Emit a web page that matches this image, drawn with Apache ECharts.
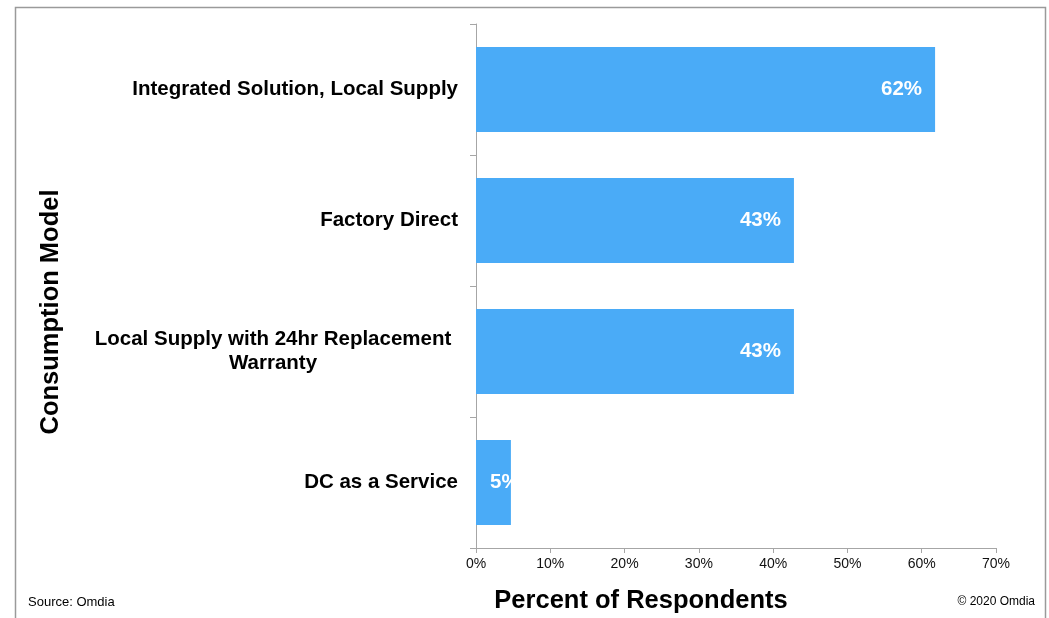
<!DOCTYPE html>
<html>
<head>
<meta charset="utf-8">
<script src="https://cdn.jsdelivr.net/npm/echarts@6/dist/echarts.min.js"></script>
<style>
    html, body { margin: 0; padding: 0; background: #fff; }
    #chart { width: 1049px; height: 618px; }
</style>
</head>
<body>
<div id="chart"></div>
<script>
// 数据
const categories = [
    'Integrated Solution, Local Supply',
    'Factory Direct',
    'Local Supply with 24hr Replacement Warranty',
    'DC as a Service'
]
const percents = [61.8, 42.8, 42.8, 4.7]
const xTicks = { min: 0, max: 70, interval: 10 }

const FONT = '"Liberation Sans", Arial, sans-serif'
const AXIS_GRAY = '#a6a6a6'
const BAR_BLUE = '#4aabf7'

const chart = echarts.init(document.getElementById('chart'))

const barData = percents.map(v => ({
    value: v,
    // 小柱子放不下标签时靠左
    label: v < 10 ? { position: 'insideLeft', distance: 14 } : undefined
}))

const option = {
    backgroundColor: '#fff',
    animation: false,
    grid: { left: 476, right: 53, top: 24, bottom: 70 },
    xAxis: {
        type: 'value',
        min: xTicks.min,
        max: xTicks.max,
        interval: xTicks.interval,
        splitLine: { show: false },
        axisLine: { show: true, lineStyle: { color: AXIS_GRAY, width: 1 } },
        axisTick: { show: true, length: 5, lineStyle: { color: AXIS_GRAY } },
        axisLabel: {
            formatter: '{value}%',
            color: '#111',
            fontFamily: FONT,
            fontSize: 14,
            margin: 9
        }
    },
    yAxis: {
        type: 'category',
        inverse: true,
        data: categories,
        axisLine: { show: true, lineStyle: { color: AXIS_GRAY, width: 1 } },
        axisTick: { show: true, length: 6, alignWithLabel: false, lineStyle: { color: AXIS_GRAY } },
        axisLabel: {
            margin: 18,
            color: '#000',
            fontFamily: FONT,
            fontSize: 20.5,
            fontWeight: 'bold',
            lineHeight: 24,
            formatter: function (val) {
                // 长标签拆成两行，居中
                if (val.indexOf('Warranty') > -1) {
                    return '{c|Local Supply with 24hr Replacement}\n{c|Warranty}'
                }
                return val
            },
            rich: {
                c: {
                    width: 370,
                    align: 'center',
                    color: '#000',
                    fontFamily: FONT,
                    fontSize: 20.5,
                    fontWeight: 'bold',
                    lineHeight: 24
                }
            }
        }
    },
    series: [{
        type: 'bar',
        data: barData,
        barCategoryGap: '35%',
        itemStyle: { color: BAR_BLUE },
        label: {
            show: true,
            position: 'insideRight',
            distance: 13,
            formatter: p => Math.round(p.value) + '%',
            color: '#fff',
            fontFamily: FONT,
            fontSize: 20.5,
            fontWeight: 'bold'
        }
    }],
    graphic: [
        {
            type: 'rect',
            shape: { x: 15.5, y: 7.5, width: 1030, height: 650 },
            style: { fill: 'none', stroke: '#9a9a9a', lineWidth: 1.5 },
            silent: true
        },
        {
            type: 'text',
            x: 51,
            y: 312,
            rotation: Math.PI / 2,
            style: {
                text: 'Consumption Model',
                fill: '#000',
                font: 'bold 25.5px ' + FONT,
                textAlign: 'center',
                textVerticalAlign: 'middle'
            }
        },
        {
            type: 'text',
            x: 641,
            y: 601,
            style: {
                text: 'Percent of Respondents',
                fill: '#000',
                font: 'bold 25.5px ' + FONT,
                textAlign: 'center',
                textVerticalAlign: 'middle'
            }
        },
        {
            type: 'text',
            x: 28,
            y: 602,
            style: {
                text: 'Source: Omdia',
                fill: '#000',
                font: '13px ' + FONT,
                textAlign: 'left',
                textVerticalAlign: 'middle'
            }
        },
        {
            type: 'text',
            x: 1035,
            y: 602,
            style: {
                text: '© 2020 Omdia',
                fill: '#000',
                font: '12px ' + FONT,
                textAlign: 'right',
                textVerticalAlign: 'middle'
            }
        }
    ]
}

chart.setOption(option)

window.addEventListener('resize', function () {
    chart.resize()
})
</script>
</body>
</html>
